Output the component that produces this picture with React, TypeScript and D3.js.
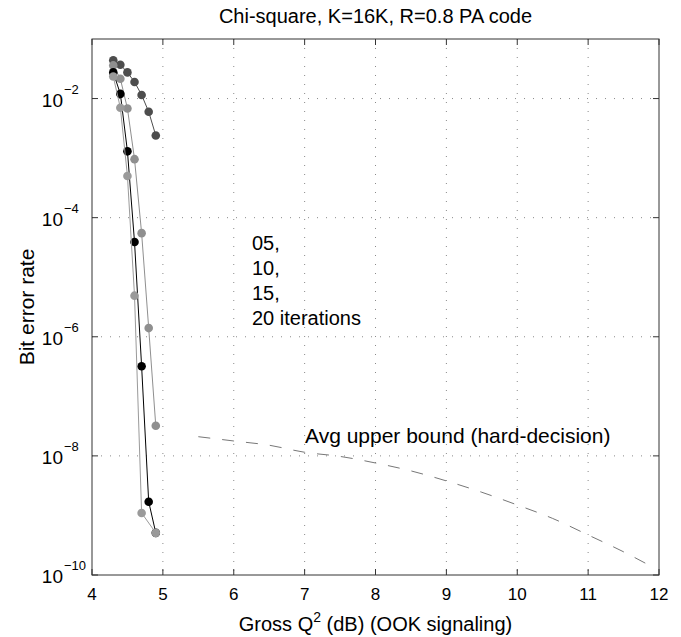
import React from "react";
import * as d3 from "d3";

// Chi-square, K=16K, R=0.8 PA code -- BER vs gross Q^2

type Pt = [number, number];

const iter05: Pt[] = [
  [4.3, 4.4e-2], [4.4, 3.7e-2], [4.5, 2.75e-2], [4.6, 1.9e-2],
  [4.7, 1.15e-2], [4.8, 6.0e-3], [4.9, 2.4e-3],
];
const iter10: Pt[] = [
  [4.3, 3.6e-2], [4.4, 2.15e-2], [4.5, 6.8e-3], [4.6, 9.6e-4],
  [4.7, 5.5e-5], [4.8, 1.4e-6], [4.9, 3.2e-8],
];
const iter15: Pt[] = [
  [4.3, 2.75e-2], [4.4, 1.2e-2], [4.5, 1.3e-3], [4.6, 3.9e-5],
  [4.7, 3.2e-7], [4.8, 1.7e-9], [4.9, 5.1e-10],
];
const iter20: Pt[] = [
  [4.3, 2.35e-2], [4.4, 7.0e-3], [4.5, 5.0e-4], [4.6, 4.9e-6],
  [4.7, 1.1e-9], [4.9, 5.1e-10],
];
const upperBound: Pt[] = [
  [5.5, 2.1e-8], [6, 1.78e-8], [6.5, 1.51e-8], [7, 1.15e-8], [7.5, 9.8e-9],
  [8, 7.6e-9], [8.5, 5.6e-9], [9, 3.8e-9], [9.5, 2.45e-9], [10, 1.5e-9],
  [10.5, 8.9e-10], [11, 4.7e-10], [11.5, 2.45e-10], [11.9, 1.38e-10],
];

const xTicks = [4, 5, 6, 7, 8, 9, 10, 11, 12];
const yExponents = [-2, -4, -6, -8, -10];
const iterLabels = ["05,", "10,", "15,", "20 iterations"];

const series = [
  { data: iter05, color: "#4d4d4d" },
  { data: iter10, color: "#8f8f8f" },
  { data: iter15, color: "#000000" },
  { data: iter20, color: "#9a9a9a" },
];

const W = 681;
const H = 637;
const m = { left: 92, right: 659, top: 39, bottom: 575 };
const font = "'Liberation Sans', Arial, sans-serif";

export default function App() {
  const x = d3.scaleLinear().domain([4, 12]).range([m.left, m.right]);
  const y = d3.scaleLog().domain([1e-10, 1e-1]).range([m.bottom, m.top]);
  const line = d3
    .line<Pt>()
    .x((d) => x(d[0]))
    .y((d) => y(d[1]));
  const curve = d3
    .line<Pt>()
    .x((d) => x(d[0]))
    .y((d) => y(d[1]))
    .curve(d3.curveMonotoneX);

  const grid = "#8a8a8a";
  const axis = "#333";

  return (
    <svg
      width={W}
      height={H}
      style={{ position: "absolute", left: 0, top: 0, background: "#fff" }}
      fontFamily={font}
    >
      {/* grid */}
      {xTicks.slice(1, -1).map((t) => (
        <line key={"gx" + t} x1={x(t)} x2={x(t)} y1={m.top} y2={m.bottom}
          stroke={grid} strokeWidth={1} strokeDasharray="1 8" />
      ))}
      {yExponents.slice(0, -1).map((e) => (
        <line key={"gy" + e} x1={m.left} x2={m.right} y1={y(10 ** e)} y2={y(10 ** e)}
          stroke={grid} strokeWidth={1} strokeDasharray="1 8" />
      ))}

      {/* upper bound */}
      <path d={curve(upperBound) ?? ""} fill="none" stroke="#777" strokeWidth={1}
        strokeDasharray="12 12" />

      {/* series */}
      {series.map((s, i) => (
        <g key={"s" + i}>
          <path d={line(s.data) ?? ""} fill="none" stroke={s.color} strokeWidth={1} />
          {s.data.map((d, j) => (
            <circle key={j} cx={x(d[0])} cy={y(d[1])} r={4.3} fill={s.color} />
          ))}
        </g>
      ))}

      {/* axes box */}
      <rect x={m.left} y={m.top} width={m.right - m.left} height={m.bottom - m.top}
        fill="none" stroke={axis} strokeWidth={1} />
      {xTicks.map((t) => (
        <g key={"tx" + t}>
          <line x1={x(t)} x2={x(t)} y1={m.bottom} y2={m.bottom - 6} stroke={axis} />
          <line x1={x(t)} x2={x(t)} y1={m.top} y2={m.top + 6} stroke={axis} />
          <text x={x(t)} y={m.bottom + 25} textAnchor="middle" fontSize={17}>{t}</text>
        </g>
      ))}
      {yExponents.map((e) => (
        <g key={"ty" + e}>
          <line x1={m.left} x2={m.left + 6} y1={y(10 ** e)} y2={y(10 ** e)} stroke={axis} />
          <line x1={m.right} x2={m.right - 6} y1={y(10 ** e)} y2={y(10 ** e)} stroke={axis} />
          <text x={63} y={y(10 ** e) + 8} textAnchor="end" fontSize={19}>10</text>
          <text x={64} y={y(10 ** e) - 5} textAnchor="start" fontSize={13}>
            {"\u2212" + Math.abs(e)}
          </text>
        </g>
      ))}

      {/* labels */}
      <text x={(m.left + m.right) / 2} y={23} textAnchor="middle" fontSize={20}>
        Chi-square, K=16K, R=0.8 PA code
      </text>
      <text x={(m.left + m.right) / 2} y={631} textAnchor="middle" fontSize={20}>
        Gross Q<tspan fontSize={14} dy={-9}>2</tspan>
        <tspan dy={9}> (dB) (OOK signaling)</tspan>
      </text>
      <text transform={`translate(34, ${(m.top + m.bottom) / 2}) rotate(-90)`}
        textAnchor="middle" fontSize={21}>
        Bit error rate
      </text>
      {iterLabels.map((l, i) => (
        <text key={l} x={252} y={250 + i * 25} fontSize={20}>{l}</text>
      ))}
      <text x={305} y={443} fontSize={21}>Avg upper bound (hard-decision)</text>
    </svg>
  );
}
